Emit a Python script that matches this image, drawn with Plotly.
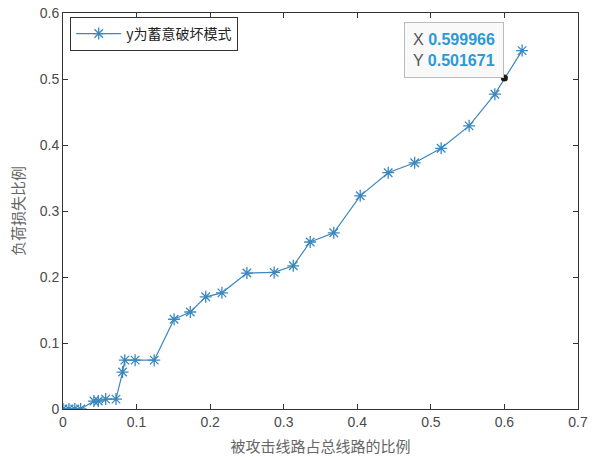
import plotly.graph_objects as go

# Share of attacked lines vs. share of load lost (deliberate attack mode)
attack_ratio = [0.0, 0.008, 0.016, 0.024, 0.042, 0.048, 0.058, 0.072, 0.081, 0.084,
                0.098, 0.124, 0.151, 0.173, 0.194, 0.216, 0.250, 0.287, 0.313, 0.336,
                0.368, 0.404, 0.442, 0.478, 0.514, 0.552, 0.587, 0.624]
load_loss = [0.0, 0.0, 0.0, 0.0, 0.012, 0.012, 0.015, 0.015, 0.056, 0.074,
             0.074, 0.074, 0.136, 0.147, 0.170, 0.176, 0.206, 0.207, 0.217, 0.253,
             0.267, 0.323, 0.358, 0.373, 0.395, 0.429, 0.477, 0.543]

# Data tip location
tip_x = 0.599966
tip_y = 0.501671

x_ticks = [0, 0.1, 0.2, 0.3, 0.4, 0.5, 0.6, 0.7]
y_ticks = [0, 0.1, 0.2, 0.3, 0.4, 0.5, 0.6]

line_color = "#3a88bd"
tick_font = dict(family="Liberation Sans, Arial, sans-serif", size=14, color="#4a4a4a")
cjk_font = dict(family="Noto Sans CJK SC", size=15, color="#666666")

fig = go.Figure()
fig.add_trace(go.Scatter(
    x=attack_ratio, y=load_loss, mode="lines+markers",
    name="y为蓄意破坏模式",
    line=dict(color=line_color, width=1.2),
    marker=dict(symbol="asterisk-open", size=10, line=dict(color="#1f6fa8", width=1.3)),
))
fig.add_trace(go.Scatter(
    x=[tip_x], y=[tip_y], mode="markers", showlegend=False,
    marker=dict(color="#1a1a1a", size=7),
))

fig.add_annotation(
    x=tip_x, y=tip_y, xref="x", yref="y", showarrow=False,
    xanchor="right", yanchor="bottom", align="left",
    text=("X <b><span style='color:#2a9ad8'>%.6f</span></b><br>"
          "Y <b><span style='color:#2a9ad8'>%.6f</span></b>") % (tip_x, tip_y),
    font=dict(family="Liberation Sans, Arial, sans-serif", size=16, color="#555555"),
    bgcolor="#f9f9f9", bordercolor="#bbbbbb", borderwidth=1, borderpad=8,
)

axis_common = dict(
    showgrid=False, zeroline=False, showline=True, mirror="ticks",
    linecolor="#333333", linewidth=1, ticks="inside", ticklen=5,
    tickcolor="#333333", tickfont=tick_font, automargin=False,
)

fig.update_layout(
    width=592, height=457,
    margin=dict(l=63, r=14, t=13, b=48),
    paper_bgcolor="white", plot_bgcolor="white",
    xaxis=dict(range=[0, 0.7], tickvals=x_ticks, ticktext=[f"{v:g}" for v in x_ticks],
               title=dict(text="被攻击线路占总线路的比例", font=cjk_font, standoff=12),
               **axis_common),
    yaxis=dict(range=[0, 0.6], tickvals=y_ticks, ticktext=[f"{v:g}" for v in y_ticks],
               title=dict(text="负荷损失比例", font=cjk_font, standoff=11),
               **axis_common),
    legend=dict(x=0.014, y=0.99, xanchor="left", yanchor="top",
                bgcolor="white", bordercolor="#333333", borderwidth=1,
                font=dict(family="Noto Sans CJK SC", size=14, color="#222222"),
                itemwidth=45, tracegroupgap=0),
)

fig.write_html("out.html")
